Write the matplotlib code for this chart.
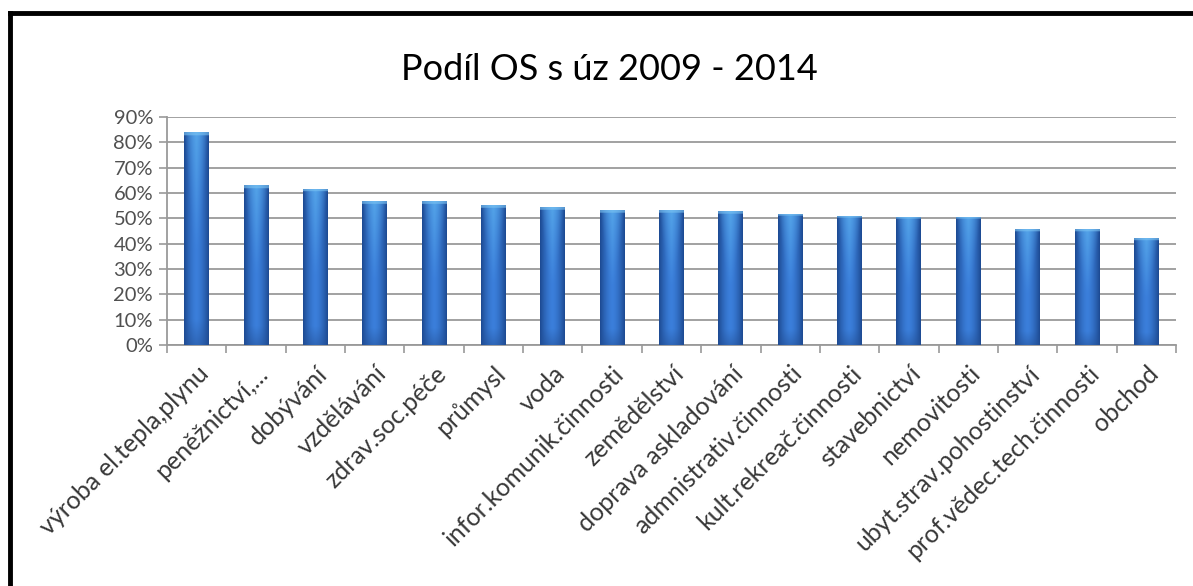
import numpy as np
import matplotlib
matplotlib.use("Agg")
import matplotlib.pyplot as plt
from matplotlib.lines import Line2D
from matplotlib.colors import to_rgb

categories = ["výroba el.tepla,plynu", "peněžnictví,...", "dobývání", "vzdělávání",
              "zdrav.soc.péče", "průmysl", "voda", "infor.komunik.činnosti",
              "zemědělství", "doprava askladování", "admnistrativ.činnosti",
              "kult.rekreač.činnosti", "stavebnictví", "nemovitosti",
              "ubyt.strav.pohostinství", "prof.vědec.tech.činnosti", "obchod"]
values = [0.841, 0.630, 0.617, 0.567, 0.567, 0.551, 0.543, 0.532,
          0.532, 0.527, 0.518, 0.511, 0.506, 0.506, 0.456, 0.456, 0.422]
yticks = [0, 0.1, 0.2, 0.3, 0.4, 0.5, 0.6, 0.7, 0.8, 0.9]
ytick_labels = ["0%", "10%", "20%", "30%", "40%", "50%", "60%", "70%", "80%", "90%"]
title = "Podíl OS s úz 2009 - 2014"

plt.rcParams['font.family'] = ['Lato', 'DejaVu Sans']

W, H = 1193, 586
fig = plt.figure(figsize=(W/100, H/100), dpi=100)
fig.patch.set_facecolor("white")

ax = fig.add_axes([167/W, 1-345/H, (1176-167)/W, (345-117)/H])
x = np.arange(len(categories))
bars = ax.bar(x, values, width=0.42, color="#2f68c4", edgecolor="none", zorder=2)

# gradient fill for each bar
edge = np.array(to_rgb("#1d4a92"))
center = np.array(to_rgb("#3b7fdb"))
light = np.array(to_rgb("#5cb0ec"))
bottom_dark = np.array(to_rgb("#234f96"))
nx, ny = 40, 200
u = np.linspace(-1, 1, nx)
hprof = np.abs(u) ** 1.6
for b in bars:
    x0, y0, w, h = b.get_x(), b.get_y(), b.get_width(), b.get_height()
    img = np.zeros((ny, nx, 3))
    base = center[None, :] * (1 - hprof[:, None]) + edge[None, :] * hprof[:, None]
    for j in range(ny):
        t = j / (ny - 1)  # 0 bottom -> 1 top
        row = base.copy()
        lt = np.clip((t - 0.45) / 0.55, 0, 1)
        vmask = np.clip(1 - np.abs(u) / (0.3 + 0.7 * lt), 0, 1) * lt
        row = row * (1 - 0.75 * vmask[:, None]) + light[None, :] * (0.75 * vmask[:, None])
        bt = np.clip((0.12 - t) / 0.12, 0, 1)
        row = row * (1 - 0.5 * bt) + bottom_dark * 0.5 * bt
        img[j] = row
    cap = 4
    img[-cap:] = img[-cap:] * 0.4 + np.array(to_rgb("#7cc4f2")) * 0.6
    im = ax.imshow(img, extent=[x0, x0 + w, y0, y0 + h], aspect="auto",
                   origin="lower", zorder=3, interpolation="bilinear")
    im.set_clip_path(b)

ax.set_xlim(-0.5, len(categories) - 0.5)
ax.set_ylim(0, 0.9)
ax.set_yticks(yticks)
ax.set_yticklabels(ytick_labels)
ax.yaxis.grid(True, color="#9a9a9a", linewidth=1.3, zorder=0)
ax.set_axisbelow(True)

ax.set_xticks(x)
ax.set_xticklabels(categories, rotation=45, ha="right", rotation_mode="anchor",
                   fontsize=18, color="#383838")
ax.set_xticks(np.arange(-0.5, len(categories), 1), minor=True)
ax.tick_params(axis="x", which="major", length=0, pad=12)
ax.tick_params(axis="x", which="minor", length=6, color="#9a9a9a", width=1.2)
ax.tick_params(axis="y", length=6, color="#9a9a9a", width=1.2, labelsize=14.5,
               labelcolor="#505050", pad=4)

for s in ["top", "right"]:
    ax.spines[s].set_visible(False)
for s in ["left", "bottom"]:
    ax.spines[s].set_color("#9a9a9a")
    ax.spines[s].set_linewidth(1.3)

fig.text(0.511, 1 - 70/H, title, ha="center", va="center", fontsize=26, color="black")

# outer frame (top and left black lines)
fig.add_artist(Line2D([10/W, 1], [1 - 13/H, 1 - 13/H], color="black", linewidth=3.5,
                      transform=fig.transFigure))
fig.add_artist(Line2D([10/W, 10/W], [0, 1 - 13/H], color="black", linewidth=3.5,
                      transform=fig.transFigure))

fig.savefig("out.png", dpi=100)
